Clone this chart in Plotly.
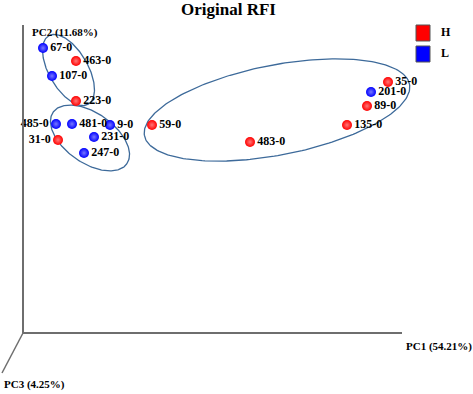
import numpy as np
import plotly.graph_objects as go

# ---- data (PC scores, arbitrary units) ----
labels = ["67-0", "463-0", "107-0", "223-0", "485-0", "481-0", "9-0", "59-0",
          "31-0", "231-0", "247-0", "35-0", "201-0", "89-0", "135-0", "483-0"]
pc1 = [0.20, 0.53, 0.29, 0.53, 0.33, 0.49, 0.87, 1.29,
       0.35, 0.71, 0.61, 3.65, 3.48, 3.44, 3.24, 2.27]
pc2 = [2.85, 2.72, 2.57, 2.32, 2.09, 2.09, 2.08, 2.08,
       1.93, 1.96, 1.80, 2.51, 2.41, 2.27, 2.08, 1.91]
group = ["L", "H", "L", "H", "L", "L", "L", "H",
         "H", "L", "L", "H", "L", "H", "H", "H"]
text_side = ["right", "right", "right", "right", "left", "right", "right", "right",
             "left", "right", "right", "right", "right", "right", "right", "right"]

# cluster ellipses: centre (pc1, pc2), semi-axes, angle (deg)
ell_cx = [0.455, 0.67, 2.54]
ell_cy = [2.63, 1.95, 2.23]
ell_a = [0.395, 0.45, 1.35]
ell_b = [0.195, 0.25, 0.45]
ell_ang = [-60, -35, 11]

colors = {"H": "#ff0000", "L": "#0000ff"}
highlight = {"H": "#ff7777", "L": "#7777ff"}

W, H = 473, 394
FONT = "Liberation Serif"

fig = go.Figure()

# ellipses
t = np.linspace(0, 2 * np.pi, 240)
for cx, cy, a, b, ang in zip(ell_cx, ell_cy, ell_a, ell_b, ell_ang):
    th = np.deg2rad(ang)
    ex = cx + a * np.cos(t) * np.cos(th) - b * np.sin(t) * np.sin(th)
    ey = cy + a * np.cos(t) * np.sin(th) + b * np.sin(t) * np.cos(th)
    fig.add_trace(go.Scatter(x=ex, y=ey, mode="lines",
                             line=dict(color="#3d6a9a", width=1.3),
                             hoverinfo="skip", showlegend=False))

# points
for g in ["H", "L"]:
    idx = [i for i, v in enumerate(group) if v == g]
    fig.add_trace(go.Scatter(
        x=[pc1[i] for i in idx], y=[pc2[i] for i in idx],
        text=[labels[i] for i in idx],
        textposition=["middle " + text_side[i] for i in idx],
        mode="markers+text", name=g, showlegend=False,
        marker=dict(size=10, color=colors[g], line=dict(width=0),
                    gradient=dict(type="radial", color=highlight[g])),
        textfont=dict(family=FONT, size=12, color="#000000", weight="bold"),
    ))

# axes frame (pseudo 3D)
gray = "#6e6e6e"
fig.add_shape(type="line", x0=0, y0=0, x1=0, y1=3.08, line=dict(color=gray, width=2))
fig.add_shape(type="line", x0=0, y0=0, x1=3.79, y1=0, line=dict(color=gray, width=2))
fig.add_shape(type="line", x0=0, y0=0, x1=-0.21, y1=-0.40, line=dict(color=gray, width=1.5))

def px(x):
    return x / W

def py(y):
    return 1 - y / H

afont = dict(family=FONT, size=11, color="#000000", weight="bold")
fig.add_annotation(x=px(30), y=py(33), xref="paper", yref="paper", text="PC2 (11.68%)",
                   showarrow=False, xanchor="left", yanchor="middle", font=afont)
fig.add_annotation(x=px(404), y=py(346), xref="paper", yref="paper", text="PC1 (54.21%)",
                   showarrow=False, xanchor="left", yanchor="middle", font=afont)
fig.add_annotation(x=px(2), y=py(384), xref="paper", yref="paper", text="PC3 (4.25%)",
                   showarrow=False, xanchor="left", yanchor="middle", font=afont)
fig.add_annotation(x=px(228), y=py(9), xref="paper", yref="paper", text="Original RFI",
                   showarrow=False, xanchor="center", yanchor="middle",
                   font=dict(family=FONT, size=17, color="#000000", weight="bold"))

# legend (custom)
lfont = dict(family=FONT, size=12, color="#000000", weight="bold")
for g, y0 in [("H", 25), ("L", 46)]:
    fig.add_shape(type="rect", xref="paper", yref="paper",
                  x0=px(416), x1=px(430), y0=py(y0), y1=py(y0 + 16),
                  fillcolor=colors[g], line=dict(color="#555555", width=1))
    fig.add_annotation(x=px(439), y=py(y0 + 7), xref="paper", yref="paper", text=g,
                       showarrow=False, xanchor="left", yanchor="middle", font=lfont)

fig.update_xaxes(range=[-0.23, (W - 23) / 100], visible=False, fixedrange=True)
fig.update_yaxes(range=[(333 - H) / 100, 3.33], visible=False, fixedrange=True)
fig.update_layout(width=W, height=H, margin=dict(l=0, r=0, t=0, b=0),
                  plot_bgcolor="white", paper_bgcolor="white", showlegend=False)

fig.write_html("out.html", config={"displayModeBar": False},
               post_script="document.body.style.margin='0';document.body.style.padding='0';"
                           "document.documentElement.style.overflow='hidden';")
